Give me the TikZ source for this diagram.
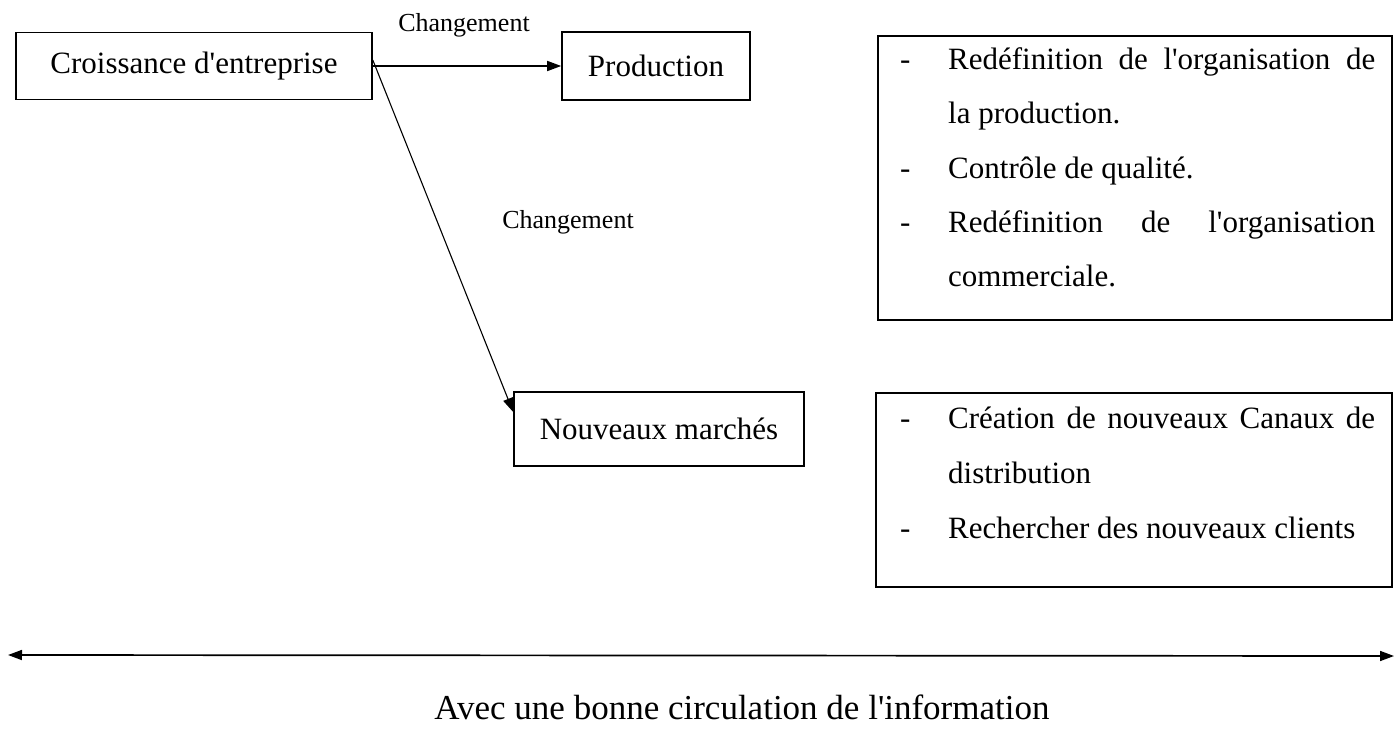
\documentclass[tikz,border=0pt]{standalone}
\usepackage{fontspec}
\setmainfont{Liberation Serif}[Ligatures=TeXOff]
\usetikzlibrary{arrows.meta}
\begin{document}
\begin{tikzpicture}[x=1pt,y=-1pt,
  box/.style={draw,line width=1.6pt,inner sep=0pt},
  boxtext/.style={font=\fontsize{31}{37}\selectfont},
  item/.style={anchor=mid west,inner sep=0pt,font=\fontsize{31}{37}\selectfont},
  lbl/.style={font=\fontsize{26}{30}\selectfont,inner sep=0pt},
  arr/.style={line width=1.6pt,-{Triangle[length=14pt,width=10pt]}},
  darr/.style={line width=1.7pt,{Triangle[length=14pt,width=10pt]}-{Triangle[length=14pt,width=10pt]}},
]
\path[use as bounding box, fill=white] (0,0) rectangle (1394,728);
% boxes
\node[box,minimum width=356pt,minimum height=67pt,boxtext] (A) at (194,66) {Croissance d'entreprise};
\node[box,minimum width=188pt,minimum height=68pt,boxtext] (B) at (656,66) {Production};
\node[box,minimum width=290pt,minimum height=74pt,boxtext] (C) at (659,429) {Nouveaux marchés};
\node[box,minimum width=514pt,minimum height=284pt] (P1) at (1135,178) {};
\node[box,minimum width=516pt,minimum height=194pt] (P2) at (1134,490) {};
% items of box 1
\node[item] (d11) at (900,67) {-};
\node[item] (t11) at (948,67) {\makebox[427pt][s]{Redéfinition de l'organisation de}};
\node[item] (t12) at (948,121) {la production.};
\node[item] (d13) at (900,176) {-};
\node[item] (t13) at (948,176) {Contrôle de qualité.};
\node[item] (d14) at (900,230) {-};
\node[item] (t14) at (948,230) {\makebox[427pt][s]{Redéfinition de l'organisation}};
\node[item] (t15) at (948,284) {commerciale.};
% items of box 2
\node[item] (d21) at (900,426) {-};
\node[item] (t21) at (948,426) {\makebox[427pt][s]{Création de nouveaux Canaux de}};
\node[item] (t22) at (948,481) {distribution};
\node[item] (d23) at (900,536) {-};
\node[item] (t23) at (948,536) {Rechercher des nouveaux clients};
% connectors
\node[lbl] (l1) at (464,25) {Changement};
\node[lbl] (l2) at (568,222) {Changement};
\draw[arr] (A.east) -- (B.west);
\draw[arr,line width=1.1pt] ([yshift=6pt]A.east) -- ([yshift=17pt]C.west);
% bottom arrow
\coordinate (L) at (8,655);
\coordinate (R) at (1394,656);
\draw[darr] (L) -- (R);
\node[font=\fontsize{35}{40}\selectfont,inner sep=0pt] (info) at (742,707) {Avec une bonne circulation de l'information};
\end{tikzpicture}
\end{document}
